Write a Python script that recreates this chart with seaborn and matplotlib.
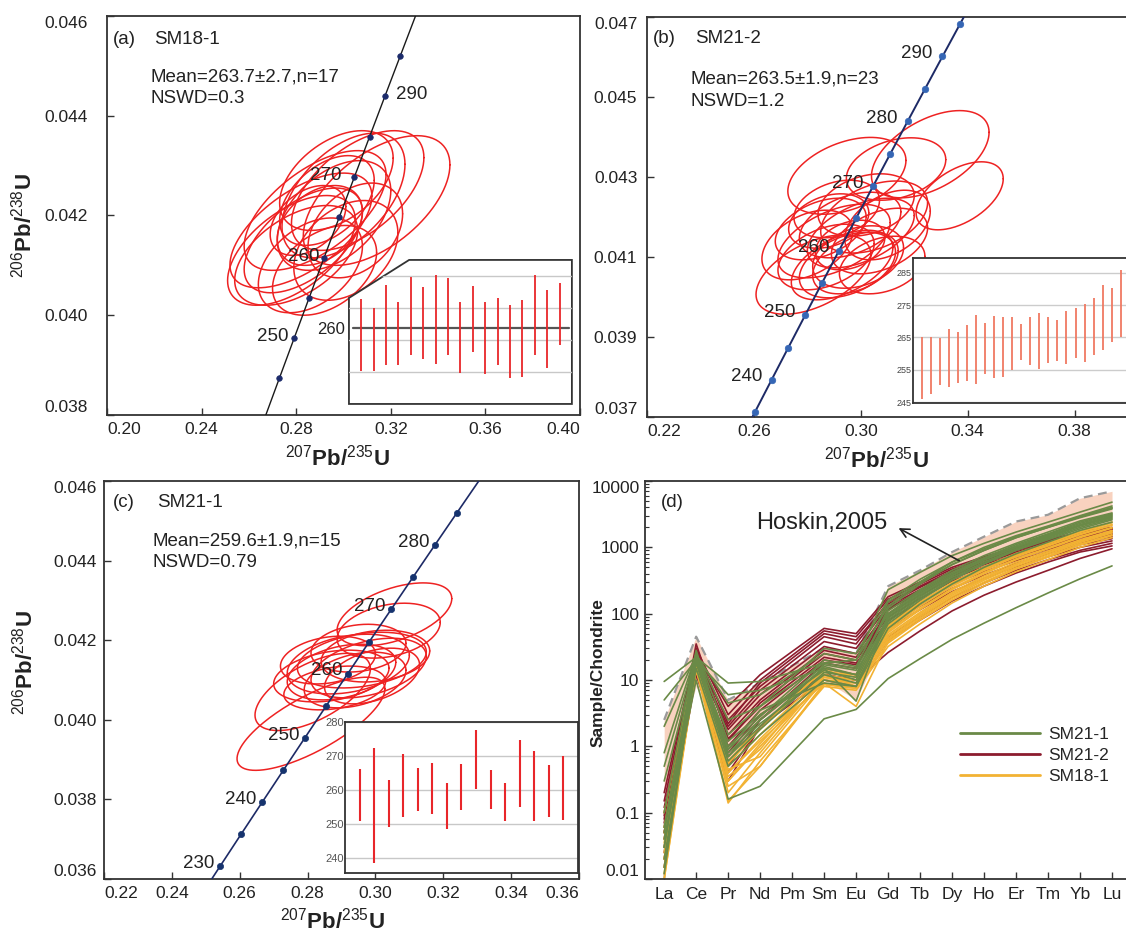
import numpy as np
import pandas as pd
import matplotlib
matplotlib.use('Agg')
import matplotlib.pyplot as plt
from matplotlib.patches import Polygon
from matplotlib.lines import Line2D
from matplotlib.ticker import LogLocator, NullFormatter, FormatStrFormatter
import seaborn as sns

sns.set_theme(style='ticks')
plt.rcParams['font.family'] = ['Liberation Sans', 'DejaVu Sans']
plt.rcParams['mathtext.fontset'] = 'custom'
plt.rcParams['mathtext.rm'] = 'Liberation Sans'
plt.rcParams['mathtext.it'] = 'Liberation Sans:italic'
plt.rcParams['mathtext.bf'] = 'Liberation Sans:bold'

# ---------------- concordia reference points (age in Ma) ----------------
conc_age = [225, 230, 235, 240, 245, 250, 255, 260, 265, 270, 275, 280, 285, 290, 295, 300]
conc_pb207_u235 = [0.24806, 0.25422, 0.26041, 0.26664, 0.27289, 0.27917, 0.28549, 0.29183,
                   0.29821, 0.30462, 0.31106, 0.31753, 0.32403, 0.33057, 0.33714, 0.34374]
conc_pb206_u238 = [0.035519, 0.036323, 0.037127, 0.037932, 0.038737, 0.039543, 0.040350, 0.041157,
                   0.041965, 0.042773, 0.043582, 0.044392, 0.045202, 0.046014, 0.046825, 0.047637]

# ---------------- panel (a) SM18-1 ----------------
a_cx = [0.3140, 0.3060, 0.3000, 0.2960, 0.2880, 0.2820, 0.2780, 0.2800, 0.2860, 0.2920, 0.3010,
        0.2900, 0.2850, 0.2930, 0.2830, 0.3050, 0.2970]
a_cy = [0.04230, 0.04250, 0.04240, 0.04200, 0.04210, 0.04170, 0.04130, 0.04120, 0.04100, 0.04090,
        0.04130, 0.04180, 0.04190, 0.04230, 0.04150, 0.04170, 0.04270]
a_sx = [0.031, 0.028, 0.026, 0.024, 0.030, 0.030, 0.027, 0.026, 0.022, 0.022, 0.022,
        0.018, 0.016, 0.020, 0.025, 0.020, 0.024]
a_sy = [0.00130, 0.00120, 0.00125, 0.00110, 0.00120, 0.00115, 0.00110, 0.00100, 0.00095, 0.00090,
        0.00100, 0.00080, 0.00070, 0.00090, 0.00105, 0.00095, 0.00100]
a_rho = [0.55, 0.55, 0.5, 0.45, 0.6, 0.6, 0.55, 0.5, 0.4, 0.4, 0.35, 0.35, 0.4, 0.45, 0.55, 0.35, 0.45]
a_dot_ages = [245, 250, 255, 260, 265, 270, 275, 280, 285]
a_label_ages = [250, 260, 270, 280]
a_label_text = ['250', '260', '270', '290']
a_bar_lo = [250.4, 250.2, 252.3, 252.1, 255.4, 254.1, 252.5, 255.2, 249.6, 256.3, 249.5, 252.2,
            248.1, 248.5, 255.4, 251.1, 258.4]
a_bar_hi = [272.9, 270.0, 277.3, 272.0, 279.6, 276.5, 280.4, 279.5, 271.9, 276.9, 271.9, 273.1,
            271.0, 272.5, 280.3, 275.7, 277.9]
a_mean = 263.7
a_grid = [250, 260, 270, 280]

# ---------------- panel (b) SM21-2 ----------------
b_cx = [0.326, 0.337, 0.2948, 0.3132, 0.2823, 0.290, 0.296, 0.300, 0.305, 0.287, 0.293, 0.299,
        0.280, 0.307, 0.291, 0.302, 0.295, 0.288, 0.310, 0.298, 0.296, 0.308, 0.285]
b_cy = [0.04357, 0.04253, 0.04303, 0.04320, 0.04056, 0.04140, 0.04180, 0.04160, 0.04200, 0.04100,
        0.04080, 0.04100, 0.04130, 0.04140, 0.04220, 0.04230, 0.04080, 0.04190, 0.04180, 0.04085,
        0.04130, 0.04080, 0.04170]
b_sx = [0.022, 0.0163, 0.0221, 0.0186, 0.0215, 0.021, 0.019, 0.020, 0.020, 0.018, 0.019, 0.017,
        0.017, 0.018, 0.016, 0.018, 0.018, 0.015, 0.016, 0.016, 0.013, 0.016, 0.017]
b_sy = [0.00109, 0.00085, 0.00096, 0.00078, 0.00099, 0.00092, 0.00082, 0.00087, 0.00090, 0.00082,
        0.00087, 0.00078, 0.00087, 0.00082, 0.00072, 0.00078, 0.00082, 0.00068, 0.00087, 0.00077,
        0.00062, 0.00072, 0.00077]
b_rho = [0.5, 0.5, 0.4, 0.3, 0.5, 0.5, 0.4, 0.5, 0.4, 0.4, 0.5, 0.3, 0.4, 0.4, 0.3, 0.3, 0.4,
         0.3, 0.4, 0.4, 0.3, 0.3, 0.4]
b_dot_ages = [235, 240, 245, 250, 255, 260, 265, 270, 275, 280, 285, 290, 295]
b_label_ages = [240, 250, 260, 270, 280, 290]
b_label_text = ['240', '250', '260', '270', '280', '290']
b_bar_lo = [246.0, 247.6, 250.4, 249.8, 250.8, 251.7, 250.7, 253.8, 252.4, 252.9, 255.1, 258.1,
            256.5, 255.4, 257.0, 257.7, 256.9, 258.8, 257.5, 259.7, 261.0, 263.7, 265.0]
b_bar_hi = [265.1, 265.2, 264.7, 267.5, 266.6, 269.0, 271.8, 269.5, 271.7, 271.3, 271.4, 269.1,
            271.3, 272.5, 271.3, 270.5, 273.1, 274.0, 275.4, 277.3, 281.2, 280.3, 285.7]
b_grid = [245, 255, 265, 275, 285]

# ---------------- panel (c) SM21-1 ----------------
c_cx = [0.3056, 0.3039, 0.2810, 0.2815, 0.2920, 0.2960, 0.2900, 0.2980, 0.2870, 0.2940, 0.3000,
        0.2860, 0.2950, 0.2880, 0.2990]
c_cy = [0.04265, 0.04224, 0.03990, 0.04070, 0.04140, 0.04150, 0.04120, 0.04130, 0.04110, 0.04100,
        0.04160, 0.04150, 0.04180, 0.04080, 0.04110]
c_sx = [0.0169, 0.0152, 0.0218, 0.0170, 0.0180, 0.0190, 0.0160, 0.0170, 0.0170, 0.0150, 0.0160,
        0.0140, 0.0140, 0.0150, 0.0140]
c_sy = [0.00079, 0.00069, 0.00117, 0.00097, 0.00075, 0.00070, 0.00070, 0.00075, 0.00065, 0.00070,
        0.00065, 0.00060, 0.00060, 0.00055, 0.00070]
c_rho = [0.5, 0.3, 0.75, 0.6, 0.3, 0.3, 0.35, 0.4, 0.3, 0.35, 0.2, 0.25, 0.2, 0.3, 0.4]
c_dot_ages = [230, 235, 240, 245, 250, 255, 260, 265, 270, 275, 280, 285]
c_label_ages = [230, 240, 250, 260, 270, 280]
c_label_text = ['230', '240', '250', '260', '270', '280']
c_bar_lo = [250.7, 238.6, 249.0, 252.0, 253.8, 252.8, 248.4, 254.0, 260.3, 254.3, 250.9, 255.0,
            250.7, 252.0, 251.2]
c_bar_hi = [266.1, 272.3, 262.8, 270.4, 266.4, 267.7, 262.0, 267.5, 277.4, 265.9, 262.0, 274.7,
            271.3, 267.1, 269.8]
c_grid = [240, 250, 260, 270, 280]

# ---------------- panel (d) chondrite-normalised REE ----------------
ree_labels = ['La', 'Ce', 'Pr', 'Nd', 'Pm', 'Sm', 'Eu', 'Gd', 'Tb', 'Dy', 'Ho', 'Er', 'Tm', 'Yb', 'Lu']
ree_pos = [0, 1, 2, 3, 5, 6, 7, 8, 9, 10, 11, 12, 13, 14]   # Pm not analysed
hoskin_upper = [2.5, 45, 5, 9, 30, 25, 260, 450, 850, 1450, 2450, 3100, 5500, 7000]
hoskin_lower = [0.2, 8, 0.6, 2.5, 10, 5, 50, 120, 250, 450, 800, 1100, 1700, 2200]

ree_sm21_1 = [
    [9.5, 22, 9, 9.5, 18, 20, 230, 420, 750, 1150, 1700, 2400, 3400, 4800],
    [5, 20, 6, 7, 15, 12, 120, 280, 550, 900, 1400, 2000, 2900, 4000],
    [2, 24, 4.5, 6, 25, 20, 130, 300, 600, 1000, 1500, 2100, 3000, 4200],
    [0.8, 25, 2.5, 4, 18, 15, 100, 220, 420, 700, 1100, 1600, 2400, 3200],
    [0.3, 20, 1.2, 3, 14, 10, 80, 180, 350, 600, 950, 1400, 2100, 2800],
    [0.1, 28, 0.8, 2.2, 12, 9, 70, 160, 320, 560, 900, 1300, 1900, 2600],
    [0.05, 18, 0.6, 1.8, 13, 11, 90, 200, 380, 650, 1000, 1500, 2200, 3000],
    [0.03, 22, 0.7, 2, 16, 12, 110, 230, 450, 750, 1150, 1700, 2500, 3300],
    [0.02, 15, 0.5, 1.5, 10, 8, 60, 140, 280, 500, 800, 1200, 1800, 2400],
    [0.04, 10, 0.16, 0.25, 2.6, 3.6, 10.5, 21, 41, 72, 123, 205, 335, 525],
    [0.06, 24, 1.0, 2.8, 20, 16, 150, 300, 550, 900, 1400, 2000, 2800, 3800],
    [0.015, 20, 0.9, 2.5, 15, 4.8, 95, 210, 400, 680, 1050, 1550, 2300, 3100],
    [0.03, 26, 1.5, 4, 30, 25, 160, 330, 600, 950, 1450, 2050, 2900, 3900],
    [0.5, 23, 0.9, 3.5, 9, 8, 85, 190, 370, 640, 1000, 1450, 2150, 2900],
    [0.012, 21, 0.7, 2.5, 17, 14, 75, 170, 330, 570, 920, 1350, 2000, 2700],
]
ree_sm21_2 = [
    [0.15, 25, 4, 12, 60, 50, 180, 300, 500, 720, 1000, 1300, 1700, 2000],
    [0.1, 30, 3, 10, 55, 45, 165, 280, 470, 680, 950, 1250, 1650, 1950],
    [0.08, 22, 2.5, 8, 45, 35, 150, 260, 440, 640, 900, 1200, 1550, 1850],
    [0.06, 20, 2, 7, 38, 30, 130, 230, 400, 590, 830, 1100, 1450, 1750],
    [0.05, 18, 1.8, 6, 32, 25, 115, 210, 370, 550, 780, 1050, 1400, 1700],
    [0.04, 25, 1.5, 5, 28, 22, 100, 190, 340, 510, 730, 990, 1320, 1600],
    [0.12, 15, 1.2, 4.5, 25, 20, 90, 170, 310, 470, 680, 930, 1250, 1550],
    [0.03, 20, 1.0, 3.5, 20, 17, 80, 150, 280, 430, 630, 870, 1180, 1450],
    [0.02, 12, 0.5, 2.5, 15, 12, 60, 115, 215, 340, 510, 720, 1000, 1250],
    [0.015, 15, 0.3, 2, 12, 10, 45, 90, 175, 290, 450, 650, 900, 1150],
    [0.05, 22, 0.8, 3, 12, 10, 26, 55, 110, 190, 300, 450, 680, 950],
    [0.2, 28, 2.2, 9, 50, 40, 140, 250, 430, 640, 920, 1230, 1600, 1900],
    [0.09, 35, 1.3, 4, 22, 18, 70, 130, 240, 380, 570, 800, 1100, 1350],
    [0.025, 18, 0.4, 2, 10, 8, 40, 80, 155, 260, 410, 600, 850, 1050],
    [0.07, 24, 0.7, 2.5, 18, 15, 120, 220, 390, 590, 850, 1150, 1550, 1900],
]
ree_sm18_1 = [
    [0.01, 15, 0.14, 0.6, 8, 7, 32, 70, 145, 260, 430, 650, 1000, 1400],
    [0.02, 20, 0.3, 1.0, 10, 8, 40, 90, 180, 320, 520, 780, 1180, 1650],
    [0.03, 18, 0.4, 1.3, 11, 9, 48, 105, 210, 370, 600, 880, 1300, 1800],
    [0.05, 22, 0.5, 1.5, 12, 10, 55, 120, 240, 420, 670, 980, 1450, 2000],
    [0.015, 14, 0.25, 0.5, 9, 4, 38, 85, 170, 300, 490, 740, 1120, 1550],
    [0.1, 25, 0.6, 2, 14, 11, 62, 140, 275, 470, 750, 1080, 1600, 2200],
    [0.04, 19, 0.35, 0.9, 13, 12, 68, 150, 295, 510, 810, 1170, 1720, 2400],
    [0.025, 16, 0.45, 0.7, 10, 9, 45, 100, 200, 350, 565, 840, 1250, 1750],
    [0.012, 21, 0.3, 1.1, 12, 8, 58, 130, 260, 450, 720, 1050, 1550, 2150],
    [0.06, 23, 0.55, 1.8, 15, 12, 65, 145, 285, 490, 780, 1130, 1680, 2350],
    [0.035, 17, 0.4, 1.2, 9, 7.5, 36, 80, 160, 285, 470, 710, 1080, 1500],
    [0.02, 20, 0.2, 0.8, 11, 10, 52, 115, 230, 400, 650, 950, 1400, 1950],
    [0.01, 17, 0.15, 0.5, 8.5, 7.5, 42, 95, 190, 335, 545, 820, 1230, 1700],
]
sample_colors = {'SM21-1': '#6a8a47', 'SM21-2': '#8c1c2e', 'SM18-1': '#f2b233'}

# ---------------- helpers ----------------
conc_lookup = dict(zip(conc_age, zip(conc_pb207_u235, conc_pb206_u238)))
EDGE = '#333333'
TXT = '#222222'


def style_axes(ax, ypad, xpad):
    for s in ax.spines.values():
        s.set_color(EDGE)
        s.set_linewidth(1.3)
    ax.tick_params(direction='in', length=5, width=1.0, color=EDGE, labelsize=12.5,
                   labelcolor=TXT, bottom=True, left=True)
    ax.tick_params(axis='y', pad=ypad)
    ax.tick_params(axis='x', pad=xpad)


def draw_ellipses(ax, cx, cy, sx, sy, rho):
    t = np.linspace(0, 2 * np.pi, 181)
    for x0, y0, a, b, r in zip(cx, cy, sx, sy, rho):
        ax.plot(x0 + a * np.cos(t),
                y0 + b * (r * np.cos(t) + np.sqrt(1 - r * r) * np.sin(t)),
                color='#ee2222', lw=1.1, zorder=2)


def draw_concordia(ax, dot_ages, lab_ages, lab_text, line_c, dot_c, lw, size, offsets):
    sns.lineplot(x=conc_pb207_u235, y=conc_pb206_u238, sort=False, color=line_c, lw=lw,
                 ax=ax, zorder=3)
    dx = [conc_lookup[a][0] for a in dot_ages]
    dy = [conc_lookup[a][1] for a in dot_ages]
    sns.scatterplot(x=dx, y=dy, s=size, color=dot_c, edgecolor=dot_c, linewidth=0.5,
                    ax=ax, zorder=4)
    for age, txt, off in zip(lab_ages, lab_text, offsets):
        ax.annotate(txt, xy=conc_lookup[age], xytext=off, textcoords='offset points',
                    ha='right' if off[0] < 0 else 'left', va='center', fontsize=13.5,
                    color=TXT, zorder=5)


def panel_text(ax, tag, sample, mean_txt, nswd_txt, xt, xs, xm, yt, ym, yn):
    ax.text(xt, yt, tag, transform=ax.transAxes, fontsize=13.5, color=TXT, va='center')
    ax.text(xs, yt, sample, transform=ax.transAxes, fontsize=13.5, color=TXT, va='center')
    ax.text(xm, ym, mean_txt, transform=ax.transAxes, fontsize=13.5, color=TXT, va='center')
    ax.text(xm, yn, nswd_txt, transform=ax.transAxes, fontsize=13.5, color=TXT, va='center')


def pin_edges(ax, left=True, right=True, bottom=True, top=True):
    xl = ax.get_xticklabels()
    yl = ax.get_yticklabels()
    if left:
        xl[0].set_ha('left')
    if right:
        xl[-1].set_ha('right')
    if bottom:
        yl[0].set_va('bottom')
    if top:
        yl[-1].set_va('top')


xlab = r'$^{207}$Pb/$^{235}$U'
ylab = r'$^{206}$Pb/$^{238}$U'

fig = plt.figure(figsize=(11.26, 9.34), dpi=100)
fig.patch.set_facecolor('white')

ax_a = fig.add_axes([0.0950, 0.5557, 0.4201, 0.4272])
ax_b = fig.add_axes([0.5746, 0.5535, 0.4272, 0.4283])
ax_c = fig.add_axes([0.0924, 0.0589, 0.4218, 0.4261])
ax_d = fig.add_axes([0.5728, 0.0589, 0.4290, 0.4261])

# ---------- (a) ----------
draw_ellipses(ax_a, a_cx, a_cy, a_sx, a_sy, a_rho)
draw_concordia(ax_a, a_dot_ages, a_label_ages, a_label_text, '#1a1a1a', '#1c2b6b', 1.0, 16,
               [(-4, 1), (-3, 1), (-9, 1), (8, 1)])
ax_a.set_xlim(0.20, 0.40)
ax_a.set_ylim(0.038, 0.046)
ax_a.set_xticks([0.20, 0.24, 0.28, 0.32, 0.36, 0.40])
ax_a.set_yticks([0.038, 0.040, 0.042, 0.044, 0.046])
ax_a.xaxis.set_major_formatter(FormatStrFormatter('%.2f'))
ax_a.yaxis.set_major_formatter(FormatStrFormatter('%.3f'))
style_axes(ax_a, 14, 5)
ax_a.set_xlabel(xlab, fontsize=16, fontweight='bold', color=TXT)
ax_a.set_ylabel(ylab, fontsize=16, fontweight='bold', color=TXT)
ax_a.xaxis.set_label_coords(0.488, -0.075)
ax_a.yaxis.set_label_coords(-0.148, 0.476)
panel_text(ax_a, '(a)', 'SM18-1', 'Mean=263.7\u00b12.7,n=17', 'NSWD=0.3',
           0.013, 0.10, 0.091, 0.942, 0.847, 0.792)
pin_edges(ax_a)

# ---------- (b) ----------
draw_ellipses(ax_b, b_cx, b_cy, b_sx, b_sy, b_rho)
draw_concordia(ax_b, b_dot_ages, b_label_ages, b_label_text, '#1d2a66', '#3566b5', 1.4, 22,
               [(-7, 2)] * 6)
ax_b.set_xlim(0.22, 0.40)
ax_b.set_ylim(0.037, 0.047)
ax_b.set_xticks([0.22, 0.26, 0.30, 0.34, 0.38])
ax_b.set_yticks([0.037, 0.039, 0.041, 0.043, 0.045, 0.047])
ax_b.xaxis.set_major_formatter(FormatStrFormatter('%.2f'))
ax_b.yaxis.set_major_formatter(FormatStrFormatter('%.3f'))
style_axes(ax_b, 7, 5)
ax_b.set_xlabel(xlab, fontsize=16, fontweight='bold', color=TXT)
ax_b.xaxis.set_label_coords(0.478, -0.075)
ax_b.set_ylabel('')
panel_text(ax_b, '(b)', 'SM21-2', 'Mean=263.5\u00b11.9,n=23', 'NSWD=1.2',
           0.0125, 0.10, 0.09, 0.947, 0.844, 0.79)
pin_edges(ax_b, right=False)

# ---------- (c) ----------
draw_ellipses(ax_c, c_cx, c_cy, c_sx, c_sy, c_rho)
draw_concordia(ax_c, c_dot_ages, c_label_ages, c_label_text, '#1d2a66', '#16336e', 1.2, 20,
               [(-4, 2)] * 6)
ax_c.set_xlim(0.22, 0.36)
ax_c.set_ylim(0.036, 0.046)
ax_c.set_xticks([0.22, 0.24, 0.26, 0.28, 0.30, 0.32, 0.34, 0.36])
ax_c.set_yticks([0.036, 0.038, 0.040, 0.042, 0.044, 0.046])
ax_c.xaxis.set_major_formatter(FormatStrFormatter('%.2f'))
ax_c.yaxis.set_major_formatter(FormatStrFormatter('%.3f'))
style_axes(ax_c, 5, 5)
ax_c.set_xlabel(xlab, fontsize=16, fontweight='bold', color=TXT)
ax_c.set_ylabel(ylab, fontsize=16, fontweight='bold', color=TXT)
ax_c.xaxis.set_label_coords(0.482, -0.072)
ax_c.yaxis.set_label_coords(-0.141, 0.543)
panel_text(ax_c, '(c)', 'SM21-1', 'Mean=259.6\u00b11.9,n=15', 'NSWD=0.79',
           0.019, 0.112, 0.101, 0.945, 0.849, 0.796)
pin_edges(ax_c)

# ---------- (d) ----------
ax_d.set_yscale('log')
ax_d.fill_between(ree_pos, hoskin_lower, hoskin_upper, color='#f8d2bf', lw=0, zorder=1)
ax_d.plot(ree_pos, hoskin_upper, color='#9a9a9a', lw=1.6, ls=(0, (4, 2.5)), zorder=1.5)

rows = []
for name, grains in [('SM21-2', ree_sm21_2), ('SM18-1', ree_sm18_1), ('SM21-1', ree_sm21_1)]:
    for g, vals in enumerate(grains):
        for p, v in zip(ree_pos, vals):
            rows.append((name, f'{name}-{g}', p, v))
ree_df = pd.DataFrame(rows, columns=['sample', 'grain', 'pos', 'value'])
for name in ['SM21-2', 'SM18-1', 'SM21-1']:
    sns.lineplot(data=ree_df[ree_df['sample'] == name], x='pos', y='value', units='grain',
                 estimator=None, color=sample_colors[name], lw=1.2, ax=ax_d, legend=False,
                 zorder=2)

ax_d.set_xlim(-0.6, 14.5)
ax_d.set_ylim(0.01, 10000)
ax_d.set_xticks(range(len(ree_labels)))
ax_d.set_xticklabels(ree_labels)
ax_d.set_yticks([0.01, 0.1, 1, 10, 100, 1000, 10000])
ax_d.set_yticklabels(['0.01', '0.1', '1', '10', '100', '1000', '10000'])
ax_d.yaxis.set_minor_locator(LogLocator(base=10, subs=np.arange(2, 10) * 1.0, numticks=20))
ax_d.yaxis.set_minor_formatter(NullFormatter())
style_axes(ax_d, 4, 6)
ax_d.tick_params(axis='y', which='minor', direction='in', length=3, width=0.8, color=EDGE, left=True)
ax_d.set_xlabel('')
ax_d.set_ylabel('Sample/Chondrite', fontsize=12.5, fontweight='bold', color=TXT)
ax_d.yaxis.set_label_coords(-0.081, 0.518)
ax_d.text(0.033, 0.945, '(d)', transform=ax_d.transAxes, fontsize=13.5, color=TXT, va='center')
ax_d.text(6.99, 2300, 'Hoskin,2005', fontsize=17, color=TXT, ha='right', va='center')
ax_d.annotate('', xy=(7.25, 2040), xytext=(9.3, 600),
              arrowprops=dict(arrowstyle='->', color='#222222', lw=1.2, mutation_scale=16))
handles = [Line2D([], [], color=sample_colors[n], lw=2) for n in ['SM21-1', 'SM21-2', 'SM18-1']]
ax_d.legend(handles, ['SM21-1', 'SM21-2', 'SM18-1'], loc='center left', bbox_to_anchor=(0.62, 0.31),
            frameon=False, fontsize=12.5, handlelength=4.6, handletextpad=0.5, labelspacing=0.35)
pin_edges(ax_d, left=False, right=False)

# ---------- insets ----------
# (a) weighted-mean inset with clipped corner
ins_a = fig.add_axes([0.3099, 0.5675, 0.1980, 0.1542])
ins_a.patch.set_visible(False)
for s in ins_a.spines.values():
    s.set_visible(False)
frame = Polygon([(0, 0), (1, 0), (1, 1), (0.27, 1), (0, 0.736)], closed=True,
                transform=ins_a.transAxes, facecolor='white', edgecolor=EDGE, lw=1.3,
                zorder=0, clip_on=False)
ins_a.add_patch(frame)
for gv in a_grid:
    ln = ins_a.axhline(gv, color='#c8c8c8', lw=1.0, zorder=1)
    ln.set_clip_path(frame)
ins_a.axhline(a_mean, xmin=0.02, xmax=0.985, color='#555555', lw=1.6, zorder=2)
ins_a.vlines(range(1, len(a_bar_lo) + 1), a_bar_lo, a_bar_hi, color='#e8262a', lw=1.3, zorder=3)
ins_a.set_xlim(0, 18)
ins_a.set_ylim(240, 285)
ins_a.set_xticks([])
ins_a.set_yticks([a_mean])
ins_a.set_yticklabels(['260'])
ins_a.tick_params(left=False, bottom=False, length=0, pad=3, labelsize=12, labelcolor=TXT)

# (b)
ins_b = fig.add_axes([0.8108, 0.5680, 0.1909, 0.1563])
ins_b.set_facecolor('white')
for gv in b_grid:
    ins_b.axhline(gv, color='#cccccc', lw=1.0, zorder=1)
ins_b.vlines(range(1, len(b_bar_lo) + 1), b_bar_lo, b_bar_hi, color='#f07a62', lw=1.3, zorder=3)
ins_b.set_xlim(0, 23.8)
ins_b.set_ylim(244.6, 289.7)
ins_b.set_xticks([])
ins_b.set_yticks(b_grid)
ins_b.tick_params(left=False, bottom=False, length=0, pad=1, labelsize=6.5, labelcolor='#444444')
for s in ins_b.spines.values():
    s.set_color(EDGE)
    s.set_linewidth(1.3)

# (c)
ins_c = fig.add_axes([0.3064, 0.0658, 0.2069, 0.1617])
ins_c.set_facecolor('white')
for gv in c_grid:
    ins_c.axhline(gv, color='#c8c8c8', lw=1.0, zorder=1)
ins_c.vlines(range(1, len(c_bar_lo) + 1), c_bar_lo, c_bar_hi, color='#e8262a', lw=1.5, zorder=3)
ins_c.set_xlim(0, 16)
ins_c.set_ylim(235.7, 280)
ins_c.set_xticks([])
ins_c.set_yticks(c_grid)
ins_c.tick_params(left=False, bottom=False, length=0, pad=1, labelsize=8, labelcolor='#555555')
for s in ins_c.spines.values():
    s.set_color(EDGE)
    s.set_linewidth(1.3)

fig.savefig('out.png', dpi=100, facecolor='white')
